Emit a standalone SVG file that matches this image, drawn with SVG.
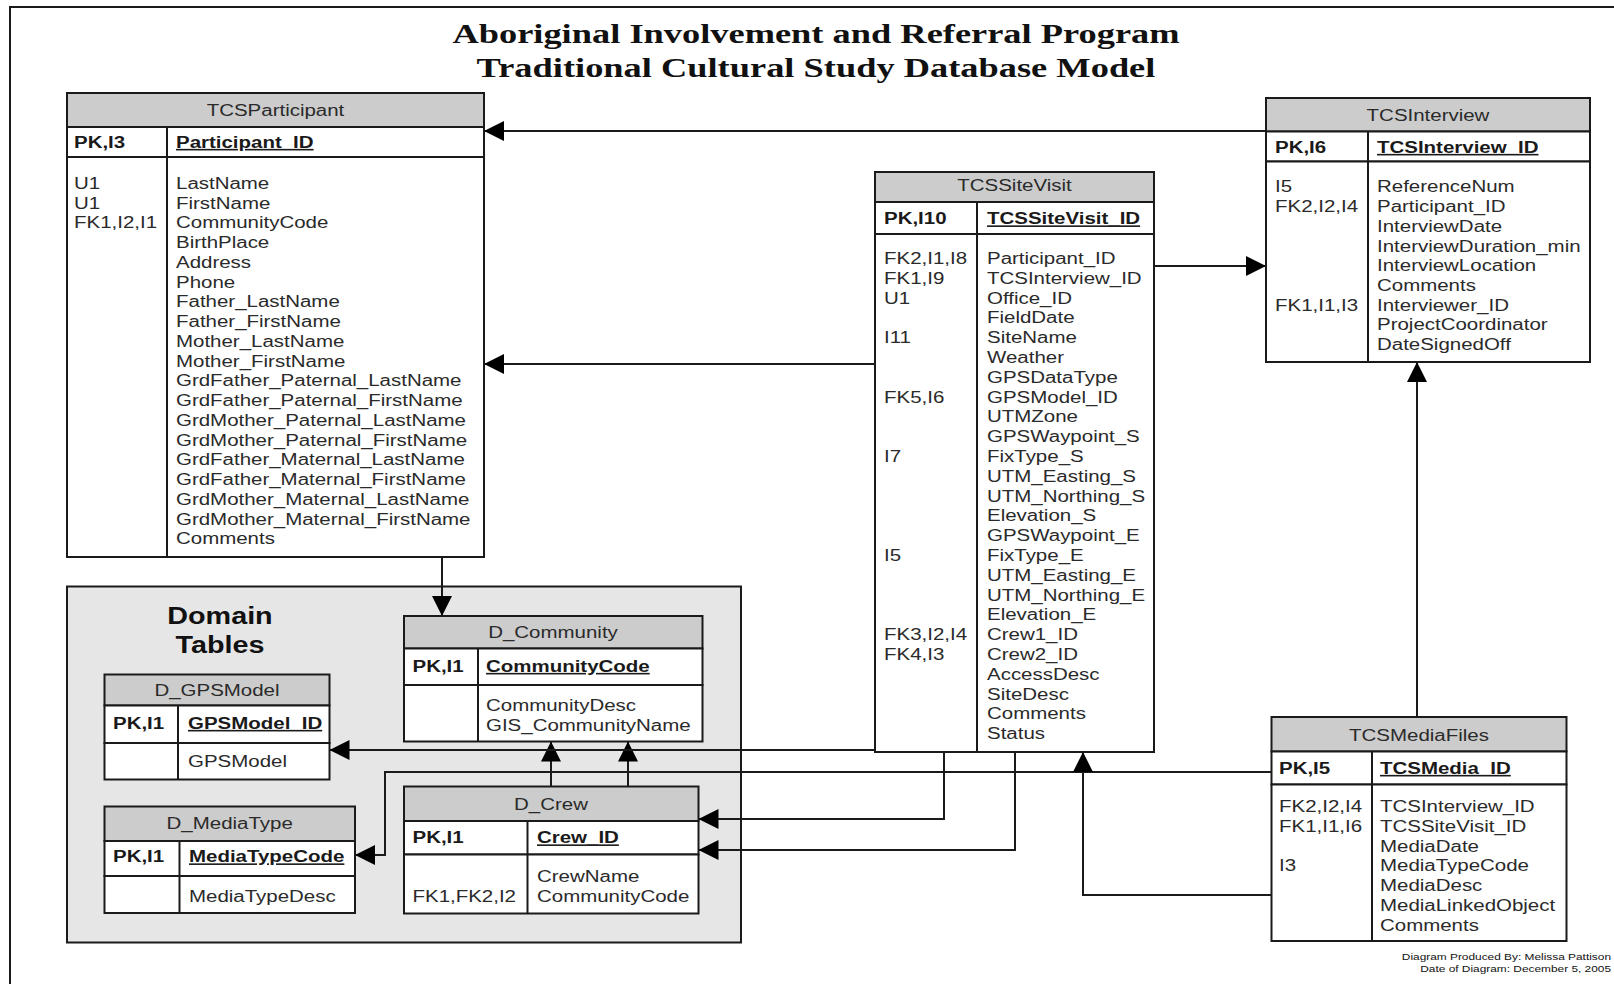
<svg xmlns="http://www.w3.org/2000/svg" width="1614" height="984" viewBox="0 0 1614 984">
<style>
.t{font-family:"Liberation Sans",Arial,sans-serif;font-size:16px;fill:#2a2a2a}
.b{font-weight:bold;fill:#1a1a1a}
.u{text-decoration:underline}
.ttl{font-family:"Liberation Serif","Times New Roman",serif;font-size:28px;font-weight:bold;fill:#111}
.dom{font-family:"Liberation Sans",Arial,sans-serif;font-size:23px;font-weight:bold;fill:#111}
.cr{font-family:"Liberation Sans",Arial,sans-serif;font-size:9.5px;fill:#111}
.hd{fill:#cccccc;stroke:#1a1a1a;stroke-width:2}
.bx{fill:#ffffff;stroke:#1a1a1a;stroke-width:2}
.ln{fill:none;stroke:#1a1a1a;stroke-width:2}
.c{fill:none;stroke:#1a1a1a;stroke-width:2;marker-end:url(#ah)}
</style>
<defs>
<marker id="ah" markerUnits="userSpaceOnUse" viewBox="0 0 20 20" refX="20" refY="10" markerWidth="20" markerHeight="20" orient="auto"><path d="M0,0 L20,10 L0,20 z" fill="#000"/></marker>
</defs>
<rect x="0" y="0" width="1614" height="984" fill="#ffffff"/>
<path class="ln" d="M10,984 V7 H1614"/>

<g id="title">
<g transform="translate(816,0) scale(1.3,1)"><text class="ttl" text-anchor="middle" x="0" y="43">Aboriginal Involvement and Referral Program</text><text class="ttl" text-anchor="middle" x="0" y="77">Traditional Cultural Study Database Model</text></g>
</g>

<g id="domain-area">
<rect x="67" y="586.5" width="674" height="356" fill="#e6e6e6" stroke="#1a1a1a" stroke-width="2"/>
<g transform="translate(220,0) scale(1.25,1)"><text class="dom" text-anchor="middle" x="0" y="624">Domain</text><text class="dom" text-anchor="middle" x="0" y="653">Tables</text></g>
</g>

<g id="connectors">
<path class="c" d="M1266,131 H484"/>
<path class="c" d="M875,364 H484"/>
<path class="c" d="M1154,266 H1266"/>
<path class="c" d="M442,557 V616"/>
<path class="c" d="M551,786.5 V741.5"/>
<path class="c" d="M628,786.5 V741.5"/>
<path class="c" d="M875,750 H329.5"/>
<path class="c" d="M1271.5,772 H385 V855 H355"/>
<path class="c" d="M944,752 V819 H698.5"/>
<path class="c" d="M1015,752 V850 H698.5"/>
<path class="c" d="M1271.5,895 H1083 V752"/>
<path class="c" d="M1417,717 V362"/>
</g>

<g id="TCSParticipant">
<rect class="hd" x="67" y="93" width="417" height="34"/>
<rect class="bx" x="67" y="127" width="417" height="30"/>
<rect class="bx" x="67" y="157" width="417" height="400"/>
<path class="ln" d="M167,127 V557"/>
<g transform="translate(275.5,0) scale(1.28,1)"><text class="t" text-anchor="middle" x="0" y="116">TCSParticipant</text></g>
<g transform="translate(74,0) scale(1.28,1)"><text class="t b" x="0" y="148">PK,I3</text><text class="t" y="189"><tspan x="0">U1</tspan><tspan x="0" dy="19.75">U1</tspan><tspan x="0" dy="19.75">FK1,I2,I1</tspan></text></g>
<g transform="translate(176,0) scale(1.28,1)"><text class="t b u" x="0" y="148">Participant_ID</text><text class="t" y="189"><tspan x="0">LastName</tspan><tspan x="0" dy="19.75">FirstName</tspan><tspan x="0" dy="19.75">CommunityCode</tspan><tspan x="0" dy="19.75">BirthPlace</tspan><tspan x="0" dy="19.75">Address</tspan><tspan x="0" dy="19.75">Phone</tspan><tspan x="0" dy="19.75">Father_LastName</tspan><tspan x="0" dy="19.75">Father_FirstName</tspan><tspan x="0" dy="19.75">Mother_LastName</tspan><tspan x="0" dy="19.75">Mother_FirstName</tspan><tspan x="0" dy="19.75">GrdFather_Paternal_LastName</tspan><tspan x="0" dy="19.75">GrdFather_Paternal_FirstName</tspan><tspan x="0" dy="19.75">GrdMother_Paternal_LastName</tspan><tspan x="0" dy="19.75">GrdMother_Paternal_FirstName</tspan><tspan x="0" dy="19.75">GrdFather_Maternal_LastName</tspan><tspan x="0" dy="19.75">GrdFather_Maternal_FirstName</tspan><tspan x="0" dy="19.75">GrdMother_Maternal_LastName</tspan><tspan x="0" dy="19.75">GrdMother_Maternal_FirstName</tspan><tspan x="0" dy="19.75">Comments</tspan></text></g>
</g>

<g id="TCSSiteVisit">
<rect class="hd" x="875" y="172" width="279" height="30"/>
<rect class="bx" x="875" y="202" width="279" height="32"/>
<rect class="bx" x="875" y="234" width="279" height="518"/>
<path class="ln" d="M977,202 V752"/>
<g transform="translate(1014.5,0) scale(1.28,1)"><text class="t" text-anchor="middle" x="0" y="191">TCSSiteVisit</text></g>
<g transform="translate(884,0) scale(1.28,1)"><text class="t b" x="0" y="224.5">PK,I10</text><text class="t"><tspan x="0" y="264">FK2,I1,I8</tspan><tspan x="0" y="283.8">FK1,I9</tspan><tspan x="0" y="303.6">U1</tspan><tspan x="0" y="343.2">I11</tspan><tspan x="0" y="402.6">FK5,I6</tspan><tspan x="0" y="462">I7</tspan><tspan x="0" y="561">I5</tspan><tspan x="0" y="640.2">FK3,I2,I4</tspan><tspan x="0" y="660">FK4,I3</tspan></text></g>
<g transform="translate(987,0) scale(1.28,1)"><text class="t b u" x="0" y="224.5">TCSSiteVisit_ID</text><text class="t" y="264"><tspan x="0">Participant_ID</tspan><tspan x="0" dy="19.8">TCSInterview_ID</tspan><tspan x="0" dy="19.8">Office_ID</tspan><tspan x="0" dy="19.8">FieldDate</tspan><tspan x="0" dy="19.8">SiteName</tspan><tspan x="0" dy="19.8">Weather</tspan><tspan x="0" dy="19.8">GPSDataType</tspan><tspan x="0" dy="19.8">GPSModel_ID</tspan><tspan x="0" dy="19.8">UTMZone</tspan><tspan x="0" dy="19.8">GPSWaypoint_S</tspan><tspan x="0" dy="19.8">FixType_S</tspan><tspan x="0" dy="19.8">UTM_Easting_S</tspan><tspan x="0" dy="19.8">UTM_Northing_S</tspan><tspan x="0" dy="19.8">Elevation_S</tspan><tspan x="0" dy="19.8">GPSWaypoint_E</tspan><tspan x="0" dy="19.8">FixType_E</tspan><tspan x="0" dy="19.8">UTM_Easting_E</tspan><tspan x="0" dy="19.8">UTM_Northing_E</tspan><tspan x="0" dy="19.8">Elevation_E</tspan><tspan x="0" dy="19.8">Crew1_ID</tspan><tspan x="0" dy="19.8">Crew2_ID</tspan><tspan x="0" dy="19.8">AccessDesc</tspan><tspan x="0" dy="19.8">SiteDesc</tspan><tspan x="0" dy="19.8">Comments</tspan><tspan x="0" dy="19.8">Status</tspan></text></g>
</g>

<g id="TCSInterview">
<rect class="hd" x="1266" y="98" width="324" height="33.5"/>
<rect class="bx" x="1266" y="131.5" width="324" height="30"/>
<rect class="bx" x="1266" y="161.5" width="324" height="200.5"/>
<path class="ln" d="M1368,131.5 V362"/>
<g transform="translate(1428,0) scale(1.28,1)"><text class="t" text-anchor="middle" x="0" y="121">TCSInterview</text></g>
<g transform="translate(1275,0) scale(1.28,1)"><text class="t b" x="0" y="153">PK,I6</text><text class="t"><tspan x="0" y="192.5">I5</tspan><tspan x="0" y="212.2">FK2,I2,I4</tspan><tspan x="0" y="310.7">FK1,I1,I3</tspan></text></g>
<g transform="translate(1377,0) scale(1.28,1)"><text class="t b u" x="0" y="153">TCSInterview_ID</text><text class="t" y="192.5"><tspan x="0">ReferenceNum</tspan><tspan x="0" dy="19.7">Participant_ID</tspan><tspan x="0" dy="19.7">InterviewDate</tspan><tspan x="0" dy="19.7">InterviewDuration_min</tspan><tspan x="0" dy="19.7">InterviewLocation</tspan><tspan x="0" dy="19.7">Comments</tspan><tspan x="0" dy="19.7">Interviewer_ID</tspan><tspan x="0" dy="19.7">ProjectCoordinator</tspan><tspan x="0" dy="19.7">DateSignedOff</tspan></text></g>
</g>

<g id="TCSMediaFiles">
<rect class="hd" x="1271.5" y="717" width="295" height="34.5"/>
<rect class="bx" x="1271.5" y="751.5" width="295" height="33"/>
<rect class="bx" x="1271.5" y="784.5" width="295" height="156.5"/>
<path class="ln" d="M1372,751.5 V941"/>
<g transform="translate(1419,0) scale(1.28,1)"><text class="t" text-anchor="middle" x="0" y="741">TCSMediaFiles</text></g>
<g transform="translate(1279,0) scale(1.28,1)"><text class="t b" x="0" y="774">PK,I5</text><text class="t"><tspan x="0" y="812">FK2,I2,I4</tspan><tspan x="0" y="831.8">FK1,I1,I6</tspan><tspan x="0" y="871.4">I3</tspan></text></g>
<g transform="translate(1380,0) scale(1.28,1)"><text class="t b u" x="0" y="774">TCSMedia_ID</text><text class="t" y="812"><tspan x="0">TCSInterview_ID</tspan><tspan x="0" dy="19.8">TCSSiteVisit_ID</tspan><tspan x="0" dy="19.8">MediaDate</tspan><tspan x="0" dy="19.8">MediaTypeCode</tspan><tspan x="0" dy="19.8">MediaDesc</tspan><tspan x="0" dy="19.8">MediaLinkedObject</tspan><tspan x="0" dy="19.8">Comments</tspan></text></g>
</g>

<g id="D_GPSModel">
<rect class="hd" x="104.5" y="674.5" width="225" height="31"/>
<rect class="bx" x="104.5" y="705.5" width="225" height="37.5"/>
<rect class="bx" x="104.5" y="743" width="225" height="36.5"/>
<path class="ln" d="M178,705.5 V779.5"/>
<g transform="translate(217,0) scale(1.28,1)"><text class="t" text-anchor="middle" x="0" y="696">D_GPSModel</text></g>
<g transform="translate(113,0) scale(1.28,1)"><text class="t b" x="0" y="729">PK,I1</text></g>
<g transform="translate(188,0) scale(1.28,1)"><text class="t b u" x="0" y="729">GPSModel_ID</text><text class="t" x="0" y="767.5">GPSModel</text></g>
</g>

<g id="D_MediaType">
<rect class="hd" x="104.5" y="806.5" width="250.5" height="34.5"/>
<rect class="bx" x="104.5" y="841" width="250.5" height="35"/>
<rect class="bx" x="104.5" y="876" width="250.5" height="37"/>
<path class="ln" d="M179.5,841 V913"/>
<g transform="translate(229.7,0) scale(1.28,1)"><text class="t" text-anchor="middle" x="0" y="829">D_MediaType</text></g>
<g transform="translate(113,0) scale(1.28,1)"><text class="t b" x="0" y="862.5">PK,I1</text></g>
<g transform="translate(189,0) scale(1.28,1)"><text class="t b u" x="0" y="862.5">MediaTypeCode</text><text class="t" x="0" y="902.5">MediaTypeDesc</text></g>
</g>

<g id="D_Community">
<rect class="hd" x="404" y="616" width="298.5" height="32.5"/>
<rect class="bx" x="404" y="648.5" width="298.5" height="36.5"/>
<rect class="bx" x="404" y="685" width="298.5" height="56.5"/>
<path class="ln" d="M478,648.5 V741.5"/>
<g transform="translate(553,0) scale(1.28,1)"><text class="t" text-anchor="middle" x="0" y="638">D_Community</text></g>
<g transform="translate(412.5,0) scale(1.28,1)"><text class="t b" x="0" y="672">PK,I1</text></g>
<g transform="translate(486,0) scale(1.28,1)"><text class="t b u" x="0" y="672">CommunityCode</text><text class="t" y="711.5"><tspan x="0">CommunityDesc</tspan><tspan x="0" dy="19.5">GIS_CommunityName</tspan></text></g>
</g>

<g id="D_Crew">
<rect class="hd" x="404" y="786.5" width="294.5" height="34.5"/>
<rect class="bx" x="404" y="821" width="294.5" height="33.5"/>
<rect class="bx" x="404" y="854.5" width="294.5" height="59"/>
<path class="ln" d="M527.5,821 V913.5"/>
<g transform="translate(551,0) scale(1.28,1)"><text class="t" text-anchor="middle" x="0" y="810">D_Crew</text></g>
<g transform="translate(412.5,0) scale(1.28,1)"><text class="t b" x="0" y="843.5">PK,I1</text><text class="t" x="0" y="902">FK1,FK2,I2</text></g>
<g transform="translate(537,0) scale(1.28,1)"><text class="t b u" x="0" y="843.5">Crew_ID</text><text class="t" y="882.5"><tspan x="0">CrewName</tspan><tspan x="0" dy="19.5">CommunityCode</tspan></text></g>
</g>

<g id="credits">
<g transform="translate(1611,0) scale(1.25,1)"><text class="cr" text-anchor="end" x="0" y="960">Diagram Produced By: Melissa Pattison</text><text class="cr" text-anchor="end" x="0" y="972">Date of Diagram: December 5, 2005</text></g>
</g>
</svg>
